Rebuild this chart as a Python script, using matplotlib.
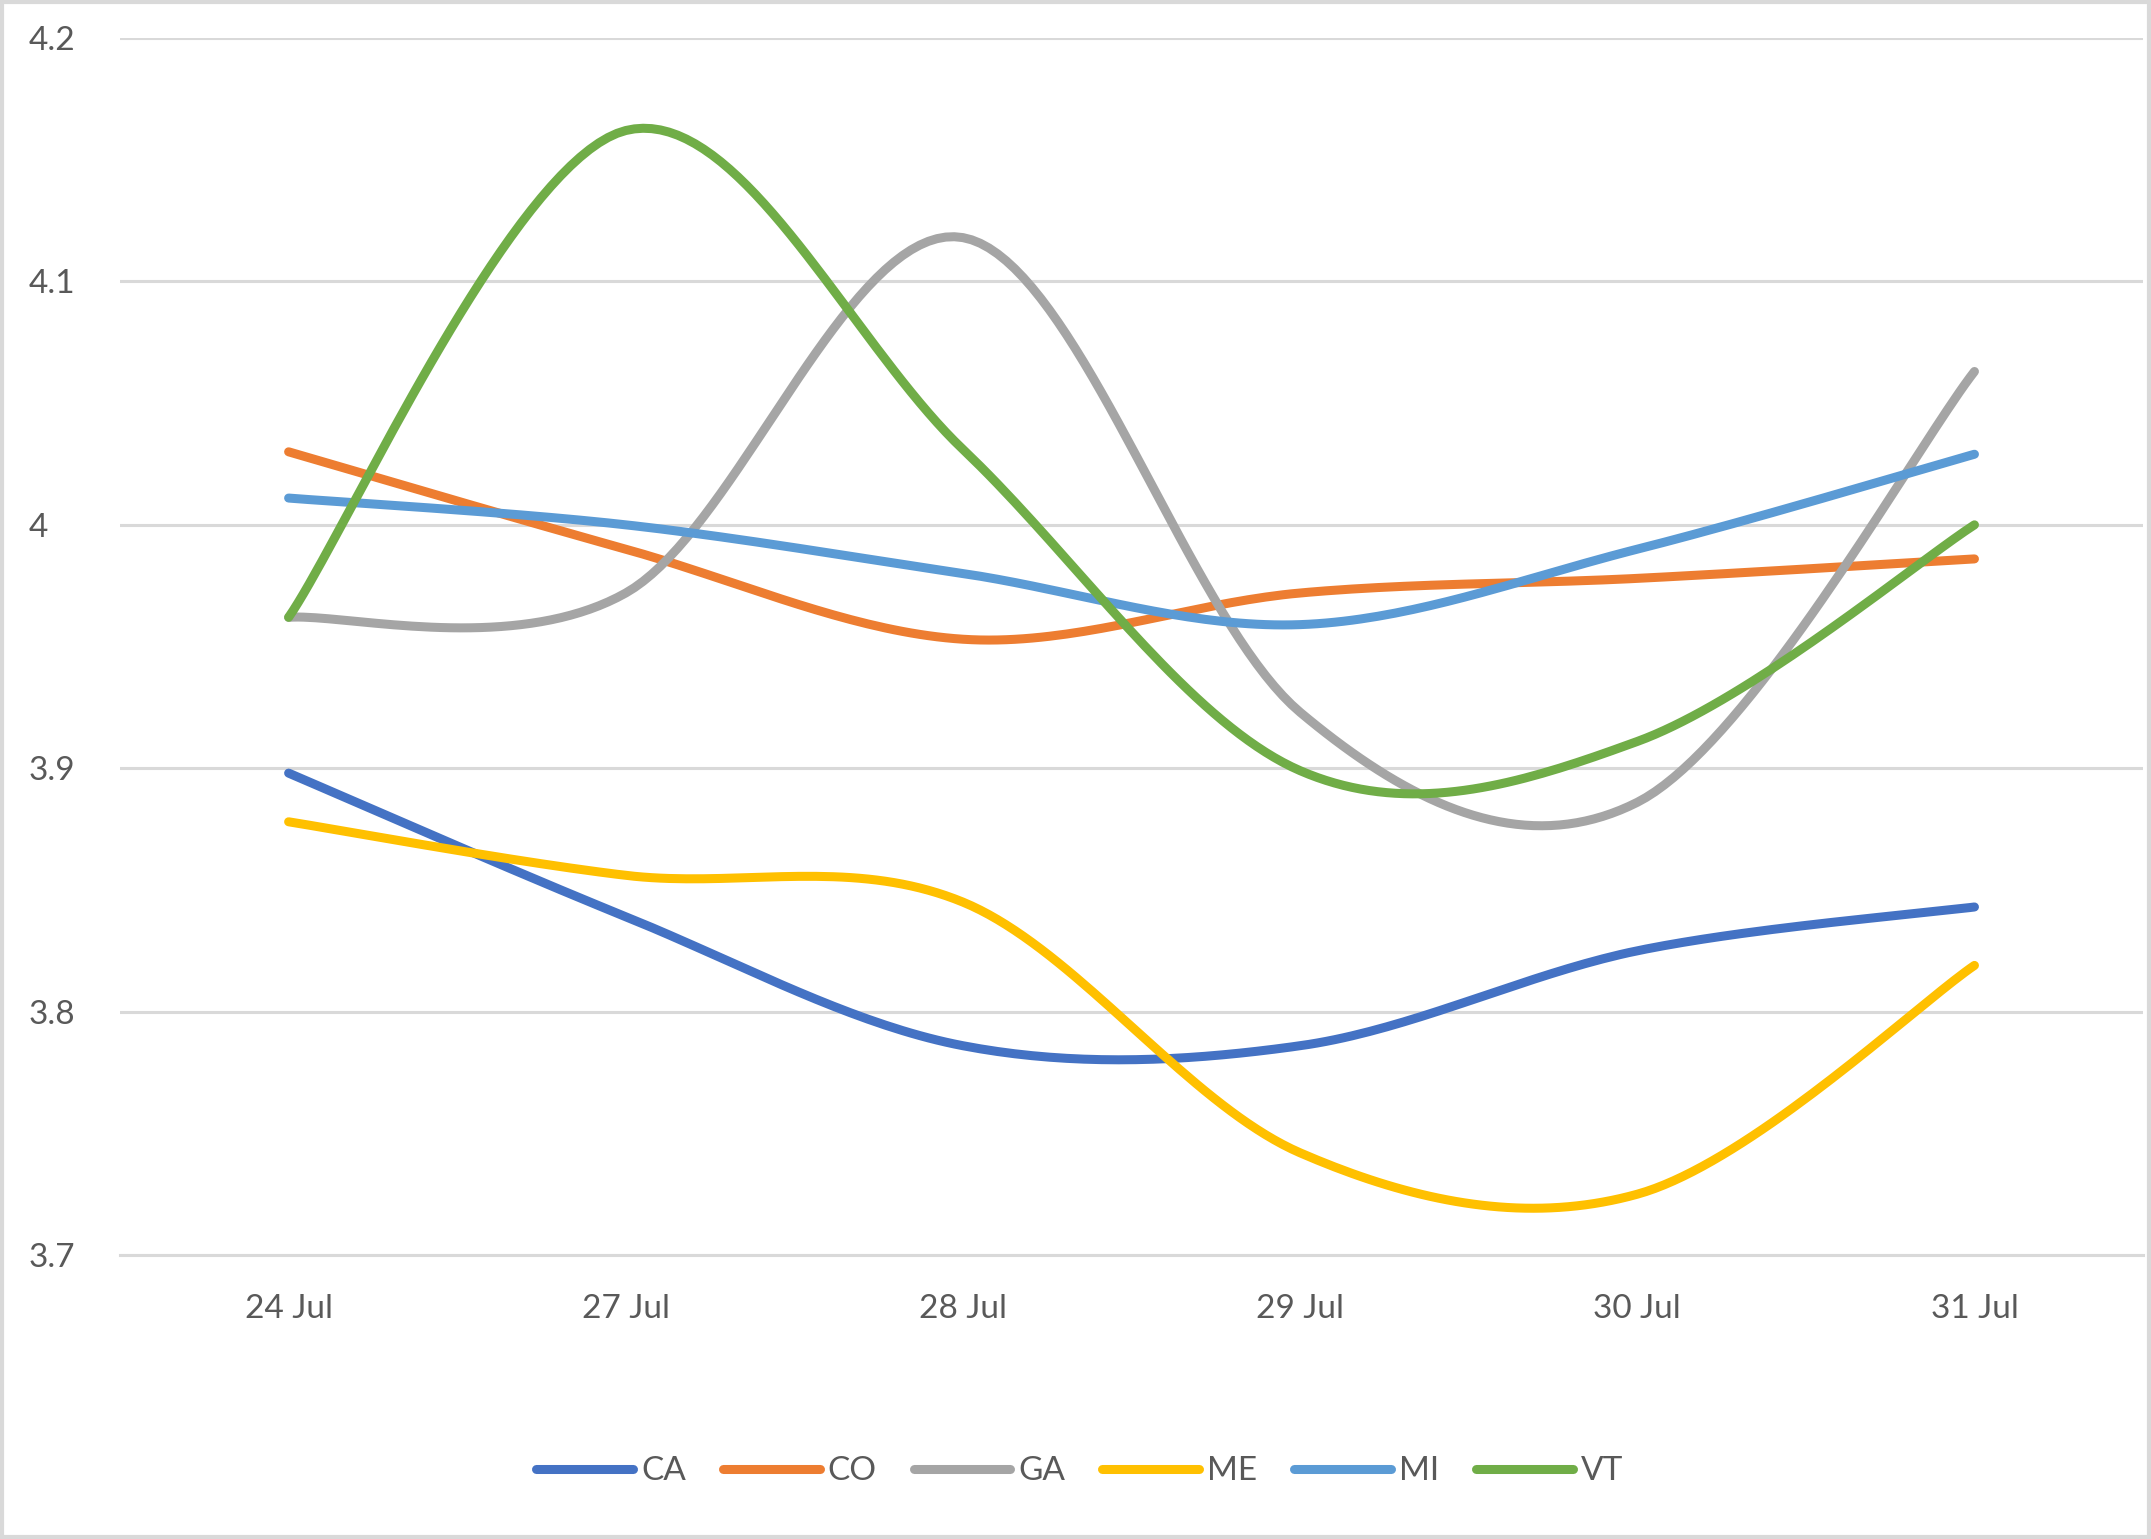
import matplotlib
matplotlib.use("Agg")
import matplotlib.pyplot as plt
import numpy as np

dates = ["24 Jul", "27 Jul", "28 Jul", "29 Jul", "30 Jul", "31 Jul"]
ca = [3.898, 3.839, 3.786, 3.786, 3.825, 3.843]
co = [4.030, 3.990, 3.953, 3.972, 3.978, 3.986]
ga = [3.962, 3.972, 4.118, 3.923, 3.886, 4.063]
me = [3.878, 3.856, 3.845, 3.742, 3.725, 3.819]
mi = [4.011, 4.000, 3.980, 3.959, 3.990, 4.029]
vt = [3.962, 4.162, 4.031, 3.899, 3.911, 4.000]

series = [("CA", ca, "#4472C4"), ("CO", co, "#ED7D31"), ("GA", ga, "#A5A5A5"),
          ("ME", me, "#FFC000"), ("MI", mi, "#5B9BD5"), ("VT", vt, "#70AD47")]

plt.rcParams['font.family'] = ['Lato', 'DejaVu Sans']
TEXT = "#595959"


def smooth(xs, ys, n=40):
    # bezier through the points, control points like Excel's smoothed line
    xs = np.asarray(xs, float)
    ys = np.asarray(ys, float)
    px = np.concatenate([[xs[0]], xs, [xs[-1]]])
    py = np.concatenate([[ys[0]], ys, [ys[-1]]])
    out_x, out_y = [], []
    t = np.linspace(0, 1, n)
    for i in range(1, len(px) - 2):
        p0 = np.array([px[i], py[i]])
        p3 = np.array([px[i + 1], py[i + 1]])
        c1 = p0 + (np.array([px[i + 1], py[i + 1]]) - np.array([px[i - 1], py[i - 1]])) / 6
        c2 = p3 - (np.array([px[i + 2], py[i + 2]]) - np.array([px[i], py[i]])) / 6
        b = ((1 - t) ** 3)[:, None] * p0 + (3 * (1 - t) ** 2 * t)[:, None] * c1 \
            + (3 * (1 - t) * t ** 2)[:, None] * c2 + (t ** 3)[:, None] * p3
        out_x.extend(b[:, 0])
        out_y.extend(b[:, 1])
    return out_x, out_y


fig = plt.figure(figsize=(21.51, 15.39), dpi=100)
ax = fig.add_axes([0.0558, 0.1845, 0.9405, 0.7908])

x = np.arange(len(dates))
for name, vals, color in series:
    sx, sy = smooth(x, vals)
    ax.plot(sx, sy, color=color, lw=6.5, solid_capstyle='round', label=name)

ax.set_xlim(-0.5, len(dates) - 0.5)
ax.set_ylim(3.7, 4.2)
ax.set_yticks([3.7, 3.8, 3.9, 4.0, 4.1, 4.2])
ax.set_yticklabels(["3.7", "3.8", "3.9", "4", "4.1", "4.2"])
ax.set_xticks(x)
ax.set_xticklabels(dates)
ax.grid(axis='y', color="#D9D9D9", lw=2.2)
ax.set_axisbelow(True)
for s in ax.spines.values():
    s.set_visible(False)
ax.spines['bottom'].set_visible(True)
ax.spines['bottom'].set_color("#D9D9D9")
ax.spines['bottom'].set_linewidth(2.2)
ax.tick_params(axis='both', length=0, labelsize=24, labelcolor=TEXT)
ax.tick_params(axis='y', pad=66)
ax.tick_params(axis='x', pad=28)
for lab in ax.get_yticklabels():
    lab.set_ha('left')

leg = fig.legend(loc='center', bbox_to_anchor=(0.502, 0.044), ncol=6, frameon=False,
                 fontsize=24, handlelength=2.9, handletextpad=0.25, columnspacing=1.1)
for t in leg.get_texts():
    t.set_color(TEXT)

# chart border
fig.patches.append(plt.Rectangle((0.001, 0.001), 0.998, 0.998, transform=fig.transFigure,
                                 fill=False, edgecolor="#D9D9D9", lw=3))

fig.savefig("out.png", dpi=100)
